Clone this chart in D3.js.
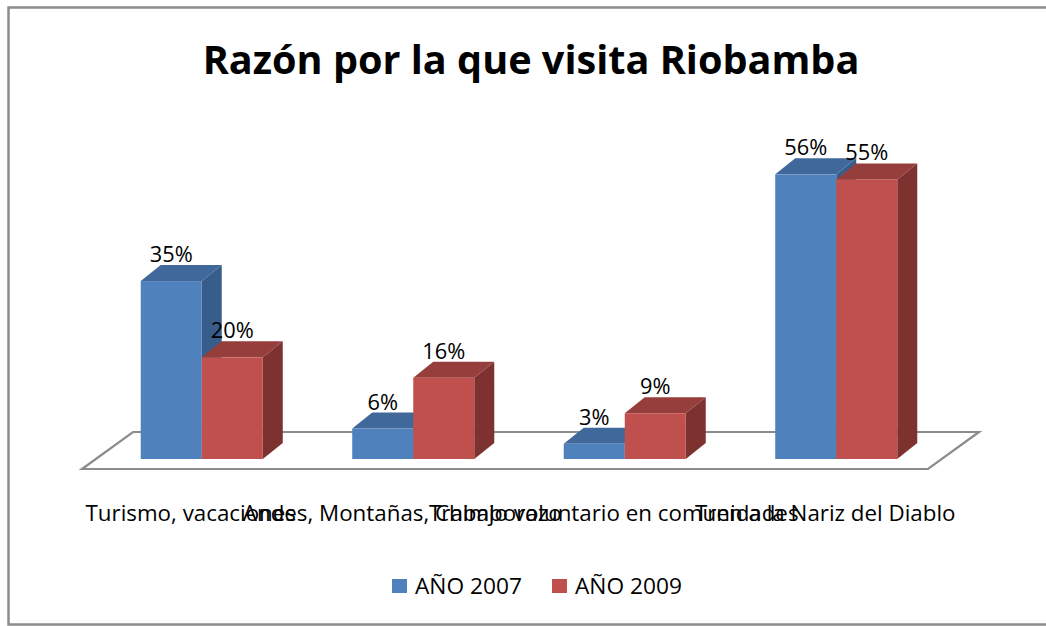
<!DOCTYPE html>
<html>
<head>
<meta charset="utf-8">
<script src="https://cdn.jsdelivr.net/npm/d3@7"></script>
<style>
  html, body { margin: 0; padding: 0; background: #fff; }
  svg { display: block; font-family: "Open Sans", sans-serif; }
</style>
</head>
<body>
<svg id="chart" width="1046" height="626"></svg>
<script>
// ---- data ----
const categories = ["Turismo, vacaciones", "Andes, Montañas, Chimborazo", "Trabajo voluntario en comunidades", "Tren a la Nariz del Diablo"];
const seriesNames = ["AÑO 2007", "AÑO 2009"];
const values2007 = [35, 6, 3, 56];
const values2009 = [20, 16, 9, 55];
const titleText = "Razón por la que visita Riobamba";

// ---- layout ----
const W = 1046, H = 626;
const baseY = 459;          // bottom of bar front faces
const depth = { dx: 20, dy: -16 };
const floor = { fl: 82, fr: 928, fy: 469, bl: 133, br: 979, by: 432 };

const colors = {
  "AÑO 2007": { front: "#4F81BD", top: "#40689A", side: "#385D8A" },
  "AÑO 2009": { front: "#C0504D", top: "#963E3C", side: "#7D3230" }
};

const svg = d3.select("#chart");

// frame
svg.append("path")
  .attr("d", `M${W + 5},7.5 H8.5 V624.5 H${W + 5}`)
  .attr("fill", "none").attr("stroke", "#8c8c8c").attr("stroke-width", 2.5);

const x = d3.scaleBand().domain(categories).range([96, 942])
  .paddingInner(0.423).paddingOuter(0.2115);
const xs = d3.scaleBand().domain(seriesNames).range([0, x.bandwidth()]);
const y = d3.scaleLinear().domain([0, 60]).range([baseY, baseY - 305]);

// floor
svg.append("polygon")
  .attr("points", [[floor.fl, floor.fy], [floor.fr, floor.fy], [floor.br, floor.by], [floor.bl, floor.by]].map(p => p.join(",")).join(" "))
  .attr("fill", "#fff").attr("stroke", "#8c8c8c").attr("stroke-width", 2.2).attr("stroke-linejoin", "miter");

const rows = categories.map((c, i) => ({
  cat: c,
  bars: [
    { s: seriesNames[0], v: values2007[i] },
    { s: seriesNames[1], v: values2009[i] }
  ]
}));

const pts = a => a.map(p => p.join(",")).join(" ");

// bars
rows.forEach(r => {
  r.bars.forEach(b => {
    const x0 = x(r.cat) + xs(b.s), x1 = x0 + xs.bandwidth();
    const yt = y(b.v), yb = y(0);
    const g = svg.append("g");
    const c = colors[b.s];
    g.append("polygon").attr("fill", c.side)
      .attr("points", pts([[x1, yt], [x1 + depth.dx, yt + depth.dy], [x1 + depth.dx, yb + depth.dy], [x1, yb]]));
    g.append("polygon").attr("fill", c.top)
      .attr("points", pts([[x0, yt], [x0 + depth.dx, yt + depth.dy], [x1 + depth.dx, yt + depth.dy], [x1, yt]]));
    g.append("rect").attr("fill", c.front)
      .attr("x", x0).attr("y", yt).attr("width", x1 - x0).attr("height", yb - yt);
  });
});

// helper: horizontally fit text
function fitGroup(sel, refIndex, targetW) {
  const nodes = sel.nodes();
  const nat = nodes[refIndex].getComputedTextLength();
  const k = targetW / nat;
  sel.each(function () {
    const t = d3.select(this);
    t.attr("transform", `translate(${t.attr("data-x")},${t.attr("data-y")}) scale(${k},1)`);
  });
}

// value labels
const valData = [];
rows.forEach(r => r.bars.forEach(b => valData.push({ cat: r.cat, s: b.s, v: b.v })));
const vl = svg.append("g").selectAll("text").data(valData).join("text")
  .attr("data-x", d => x(d.cat) + xs(d.s) + xs.bandwidth() / 2)
  .attr("data-y", d => y(d.v) + depth.dy - 3)
  .attr("text-anchor", "middle")
  .attr("font-size", 22).attr("fill", "#000")
  .text(d => d.v + "%");
fitGroup(vl, 0, 43);

// title
const tt = svg.append("text")
  .attr("data-x", 531).attr("data-y", 74)
  .attr("text-anchor", "middle").attr("font-weight", "bold")
  .attr("font-size", 40).attr("fill", "#000")
  .text(titleText);
fitGroup(tt, 0, 657);

// category labels
const cl = svg.append("g").selectAll("text").data(categories).join("text")
  .attr("data-x", d => x(d) + x.bandwidth() / 2 - 11)
  .attr("data-y", 521)
  .attr("text-anchor", "middle")
  .attr("font-size", 21).attr("fill", "#000")
  .text(d => d);
fitGroup(cl, 1, 319);

// legend
const lg = svg.append("g");
const legX = [392, 552];
seriesNames.forEach((s, i) => {
  lg.append("rect").attr("x", legX[i]).attr("y", 579).attr("width", 15).attr("height", 14)
    .attr("fill", colors[s].front);
});
const lt = lg.selectAll("text").data(seriesNames).join("text")
  .attr("data-x", (d, i) => legX[i] + 23).attr("data-y", 594)
  .attr("font-size", 22).attr("fill", "#000")
  .text(d => d);
fitGroup(lt, 0, 107);
</script>
</body>
</html>
